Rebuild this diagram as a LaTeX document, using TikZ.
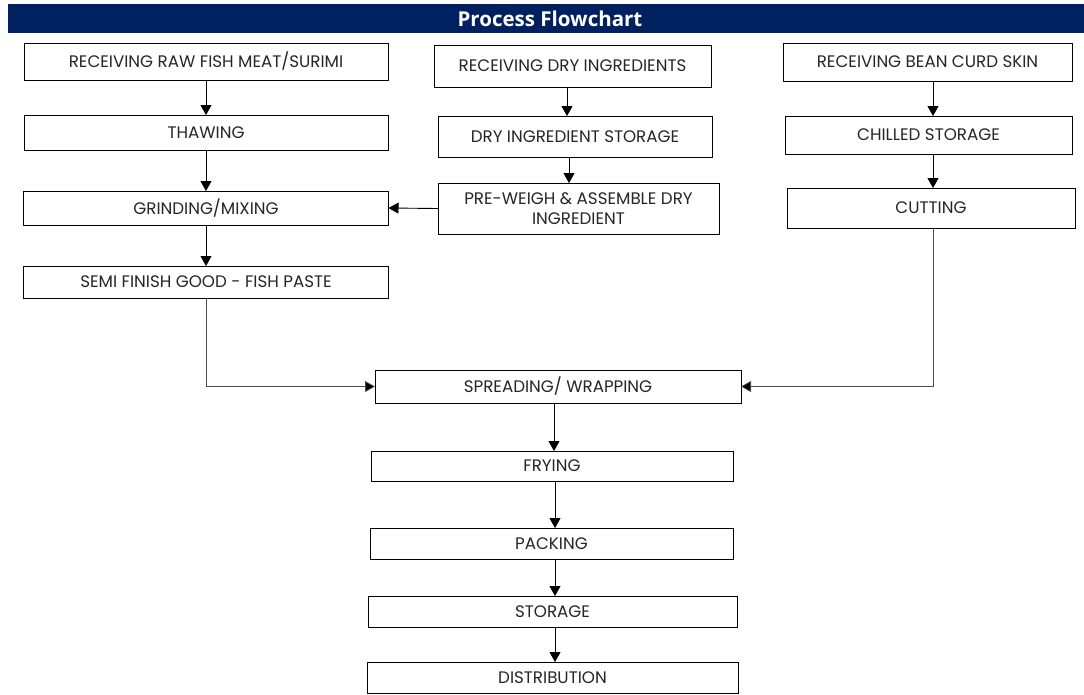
\documentclass[tikz,border=0pt]{standalone}
\usepackage{fontspec}
\setmainfont{Poppins}
\newfontfamily\titlefont{Open Sans}
\usetikzlibrary{arrows.meta}
\definecolor{navy}{RGB}{0,32,96}
\begin{document}
\begin{tikzpicture}[x=1pt,y=-1pt,
  box/.style={draw=black,line width=0.8pt,fill=white,rectangle,inner sep=0pt,outer sep=0pt,align=center,
    text=black!85,font=\fontsize{16.7}{20}\selectfont},
  arr/.style={draw=black,line width=0.9pt,-{Triangle[length=10pt,width=11pt]}},
  link/.style={draw=black!70,line width=0.8pt,-{Triangle[length=10pt,width=11pt,fill=black]}}]
\useasboundingbox (0,0) rectangle (1084,694);
\fill[navy] (8,4) rectangle (1084,33);
\node[text=white,font=\titlefont\bfseries\fontsize{20.5}{22}\selectfont] (title) at (550,18.5) {Process Flowchart};
% left column
\node[box,minimum width=364pt,minimum height=37pt] (raw) at (206,61.5) {RECEIVING RAW FISH MEAT/SURIMI};
\node[box,minimum width=364pt,minimum height=35pt] (thaw) at (206,132.5) {THAWING};
\node[box,minimum width=365pt,minimum height=34pt] (grind) at (206,208) {GRINDING/MIXING};
\node[box,minimum width=365pt,minimum height=32pt] (semi) at (206,282) {SEMI FINISH GOOD - FISH PASTE};
% middle column
\node[box,minimum width=277pt,minimum height=42pt] (rdry) at (572.5,66) {RECEIVING DRY INGREDIENTS};
\node[box,minimum width=274pt,minimum height=41pt] (dstor) at (575,136.5) {DRY INGREDIENT STORAGE};
\node[box,minimum width=281pt,minimum height=51pt] (prew) at (578.5,208.5) {PRE-WEIGH \& ASSEMBLE DRY\\INGREDIENT};
% right column
\node[box,minimum width=289pt,minimum height=38pt] (bean) at (927.5,62) {RECEIVING BEAN CURD SKIN};
\node[box,minimum width=287pt,minimum height=38pt] (chill) at (928.5,135) {CHILLED STORAGE};
\node[box,minimum width=288pt,minimum height=40pt] (cut) at (931,208) {CUTTING};
% bottom column
\node[box,minimum width=366pt,minimum height=33pt] (spread) at (558,386.5) {SPREADING/ WRAPPING};
\node[box,minimum width=362pt,minimum height=30pt] (fry) at (552,466) {FRYING};
\node[box,minimum width=363pt,minimum height=31pt] (pack) at (551.5,543.5) {PACKING};
\node[box,minimum width=369pt,minimum height=31pt] (stor) at (552.5,611.5) {STORAGE};
\node[box,minimum width=371pt,minimum height=31pt] (dist) at (552.5,677.5) {DISTRIBUTION};
% connectors
\draw[arr] (raw) -- (thaw);
\draw[arr] (thaw) -- (grind);
\draw[arr] (grind) -- (semi);
\draw[arr] (rdry.south -| 567,0) -- (dstor.north -| 567,0);
\draw[arr] (dstor.south -| 569,0) -- (prew.north -| 569,0);
\draw[arr] (prew.west) -- (grind.east);
\draw[arr] (bean.south -| 933,0) -- (chill.north -| 933,0);
\draw[arr] (chill.south -| 933,0) -- (cut.north -| 933,0);
\draw[link] (semi.south) |- (spread.west);
\draw[link] (cut.south -| 933,0) |- (spread.east);
\draw[arr] (spread.south -| 554,0) -- (fry.north -| 554,0);
\draw[arr] (fry.south -| 555,0) -- (pack.north -| 555,0);
\draw[arr] (pack.south -| 555,0) -- (stor.north -| 555,0);
\draw[arr] (stor.south -| 555,0) -- (dist.north -| 555,0);
\end{tikzpicture}
\end{document}
